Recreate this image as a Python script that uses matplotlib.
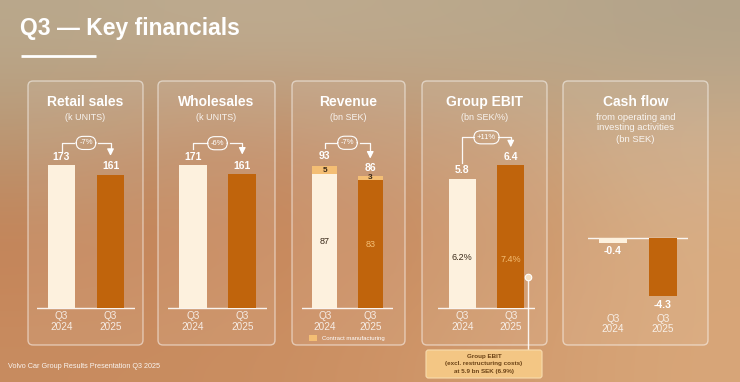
import numpy as np
import matplotlib
matplotlib.use("Agg")
import matplotlib.pyplot as plt
from matplotlib.patches import FancyBboxPatch, Rectangle

plt.rcParams['font.family'] = ['Liberation Sans', 'DejaVu Sans']

# ---------------- data ----------------
periods = ["Q3\n2024", "Q3\n2025"]
retail_sales = [173, 161]
wholesales = [171, 161]
revenue_total = [93, 86]
revenue_core = [87, 83]
revenue_contract = [5, 3]
ebit = [5.8, 6.4]
ebit_margin = ["6.2%", "7.4%"]
cash_flow = [-0.4, -4.3]
changes = {"retail": "-7%", "wholesale": "-6%", "revenue": "-7%", "ebit": "+11%"}

W, H = 740, 382
fig = plt.figure(figsize=(W / 100, H / 100), dpi=100)

# background gradient
bg_ctrl = np.array([
    [(185, 168, 140), (190, 172, 145), (188, 170, 142), (185, 168, 140), (178, 163, 138)],
    [(186, 150, 114), (194, 138, 98), (196, 148, 112), (200, 156, 116), (206, 172, 136)],
    [(196, 130, 86), (200, 134, 90), (200, 138, 94), (205, 150, 106), (214, 166, 120)],
    [(200, 140, 96), (201, 141, 96), (205, 146, 101), (210, 156, 111), (216, 166, 121)],
], dtype=float) / 255.0
bg = fig.add_axes([0, 0, 1, 1])
bg.imshow(bg_ctrl, extent=(0, W, H, 0), aspect='auto', interpolation='bicubic')
bg.set_xlim(0, W)
bg.set_ylim(H, 0)
bg.axis('off')

ov = fig.add_axes([0, 0, 1, 1], zorder=1)
ov.set_xlim(0, W)
ov.set_ylim(H, 0)
ov.axis('off')
ov.patch.set_alpha(0)

CREAM = "#fdf1de"
ORANGE = "#c0640c"
LIGHT = "#f4be74"

# title
ov.text(20, 29, "Q3 \u2014 Key financials", color="white", fontsize=16.5,
        fontweight="bold", va="center", ha="left")
ov.plot([21, 96], [56, 56], color="white", lw=2, solid_capstyle="butt")
ov.text(8, 367, "Volvo Car Group Results Presentation Q3 2025", color="white",
        alpha=0.9, fontsize=5.2, va="center", ha="left")

# panels
panels = [
    (28, 143, "Retail sales", ["(k UNITS)"]),
    (158, 275, "Wholesales", ["(k UNITS)"]),
    (292, 405, "Revenue", ["(bn SEK)"]),
    (422, 547, "Group EBIT", ["(bn SEK/%)"]),
    (563, 708, "Cash flow", ["from operating and", "investing activities", "(bn SEK)"]),
]
for (l, r, title, subs) in panels:
    box = FancyBboxPatch((l, 81), r - l, 345 - 81, boxstyle="round,pad=0,rounding_size=5",
                         facecolor=(1, 1, 1, 0.08), edgecolor=(1, 1, 1, 0.5), lw=1.0)
    ov.add_patch(box)
    cx = (l + r) / 2
    ov.text(cx, 102, title, color="white", fontsize=10, fontweight="bold",
            ha="center", va="center")
    for i, s in enumerate(subs):
        ov.text(cx, 117 + i * 11, s, color=(1, 1, 1, 0.88), fontsize=6.5 if len(subs) == 1 else 6.8,
                ha="center", va="center")


def bar_axes(left, right, base, scale, top=130, bottom=312):
    ax = fig.add_axes([left / W, 1 - bottom / H, (right - left) / W, (bottom - top) / H], zorder=2)
    ax.set_xlim(-0.5, 1.5)
    ax.set_ylim(-(bottom - base) / scale, (base - top) / scale)
    ax.axis('off')
    ax.patch.set_alpha(0)
    ax.axhline(0, color="white", lw=1.0, alpha=0.9, zorder=1)
    return ax


def xlabels(left, right, y1=316, y2=327):
    xs = [left + (right - left) * 0.25, left + (right - left) * 0.75]
    for x, p in zip(xs, periods):
        a, b = p.split("\n")
        ov.text(x, y1, a, color=(1, 1, 1, 0.82), fontsize=7.2, ha="center", va="center")
        ov.text(x, y2, b, color=(1, 1, 1, 0.82), fontsize=7.2, ha="center", va="center")


def bracket(ax, vals, scale, start_off, top_off, tip_off, label, gap_px):
    t = [v + start_off / scale for v in vals]
    ytop = max(vals) + top_off / scale
    ytip = vals[1] + tip_off / scale
    bb = ax.get_position()
    axw_px = bb.width * W
    gap = gap_px / (axw_px / 2.0)
    kw = dict(color="white", lw=0.9, alpha=0.95)
    ax.plot([0, 0, 0.5 - gap], [t[0], ytop, ytop], **kw)
    ax.plot([0.5 + gap, 1, 1], [ytop, ytop, ytip + 4 / scale], **kw)
    ax.annotate("", xy=(1, ytip), xytext=(1, ytip + 5.5 / scale),
                arrowprops=dict(arrowstyle="-|>,head_width=0.2,head_length=0.4",
                                color="white", lw=0.9, shrinkA=0, shrinkB=0))
    ax.text(0.5, ytop, label, color="white", fontsize=5.5, ha="center", va="center",
            bbox=dict(boxstyle="round,pad=0.4,rounding_size=0.9", facecolor="none",
                      edgecolor="white", lw=0.8))


def value_labels(ax, vals, scale, offs, fmt="{:g}"):
    for i, (v, o) in enumerate(zip(vals, offs)):
        ax.text(i, v + o / scale, fmt.format(v), color="white", fontsize=7.5,
                fontweight="bold", ha="center", va="center")


x = np.arange(2)
bw = 0.56

# Retail sales
s1 = 0.827
ax1 = bar_axes(37, 135, 308, s1)
ax1.bar(x, retail_sales, width=bw, color=[CREAM, ORANGE], zorder=2)
value_labels(ax1, retail_sales, s1, [8, 9])
bracket(ax1, retail_sales, s1, 14, 22, 19, changes["retail"], 12)
xlabels(37, 135)

# Wholesales
s2 = 0.835
ax2 = bar_axes(168, 267, 308, s2)
ax2.bar(x, wholesales, width=bw, color=[CREAM, ORANGE], zorder=2)
value_labels(ax2, wholesales, s2, [8, 8])
bracket(ax2, wholesales, s2, 16, 22, 19, changes["wholesale"], 12)
xlabels(168, 267)

# Revenue
s3 = 1.54
ax3 = bar_axes(302, 393, 308, s3)
ax3.bar(x, revenue_core, width=bw, color=[CREAM, ORANGE], zorder=2)
ax3.bar(x, revenue_contract, bottom=revenue_core, width=bw, color=LIGHT, zorder=2)
value_labels(ax3, revenue_total, s3, [9, 8])
for i in range(2):
    ax3.text(i, revenue_core[i] / 2, str(revenue_core[i]), fontsize=6.5,
             color="#3a2a1a" if i == 0 else LIGHT, ha="center", va="center")
    ax3.text(i, revenue_core[i] + revenue_contract[i] / 2, str(revenue_contract[i]),
             fontsize=6, fontweight="bold", color="#3a2a1a", ha="center", va="center")
bracket(ax3, revenue_total, s3, 17, 22, 17, changes["revenue"], 12)
xlabels(302, 393)
ov.add_patch(Rectangle((309, 335), 8, 6, facecolor=LIGHT, edgecolor="none"))
ov.text(322, 338.5, "Contract manufacturing", color="white", fontsize=4.3,
        ha="left", va="center")

# Group EBIT
s4 = 22.3
ax4 = bar_axes(438, 535, 308, s4)
ax4.bar(x, ebit, width=bw, color=[CREAM, ORANGE], zorder=2)
value_labels(ax4, ebit, s4, [9, 8])
ax4.text(0, 51 / s4, ebit_margin[0], fontsize=6.5, color="#3a2a1a", ha="center", va="center")
ax4.text(1, 48 / s4, ebit_margin[1], fontsize=6.5, color=LIGHT, ha="center", va="center")
bracket(ax4, ebit, s4, 16, 28, 18, changes["ebit"], 14)
xlabels(438, 535)
# callout
ov.plot([528, 528], [279, 350], color="white", lw=1.0, alpha=0.9, zorder=3)
ov.scatter([528], [277], s=22, color="#f6e3c8", edgecolors="white", linewidths=0.8, zorder=4)
cb = FancyBboxPatch((426, 350), 116, 28, boxstyle="round,pad=0,rounding_size=2.5",
                    facecolor="#f3c684", edgecolor="#f8dcae", lw=0.8, zorder=3)
ov.add_patch(cb)
for j, line in enumerate(["Group EBIT", "(excl. restructuring costs)", "at 5.9 bn SEK (6.9%)"]):
    ov.text(484, 356.5 + j * 7.3, line, fontsize=4.5, fontweight="bold", color="#6b4215",
            ha="center", va="center", zorder=4)

# Cash flow
s5 = 13.5
ax5 = bar_axes(588, 688, 238, s5, top=130, bottom=312)
ax5.bar(x, cash_flow, width=bw, color=[CREAM, ORANGE], zorder=2)
for i, (v, o) in enumerate(zip(cash_flow, [-7.5, -9])):
    ax5.text(i, v + o / s5, "{:g}".format(v), color="white", fontsize=7.5,
             fontweight="bold", ha="center", va="center")
xlabels(588, 688, 319, 329)

fig.savefig("out.png", dpi=100)
